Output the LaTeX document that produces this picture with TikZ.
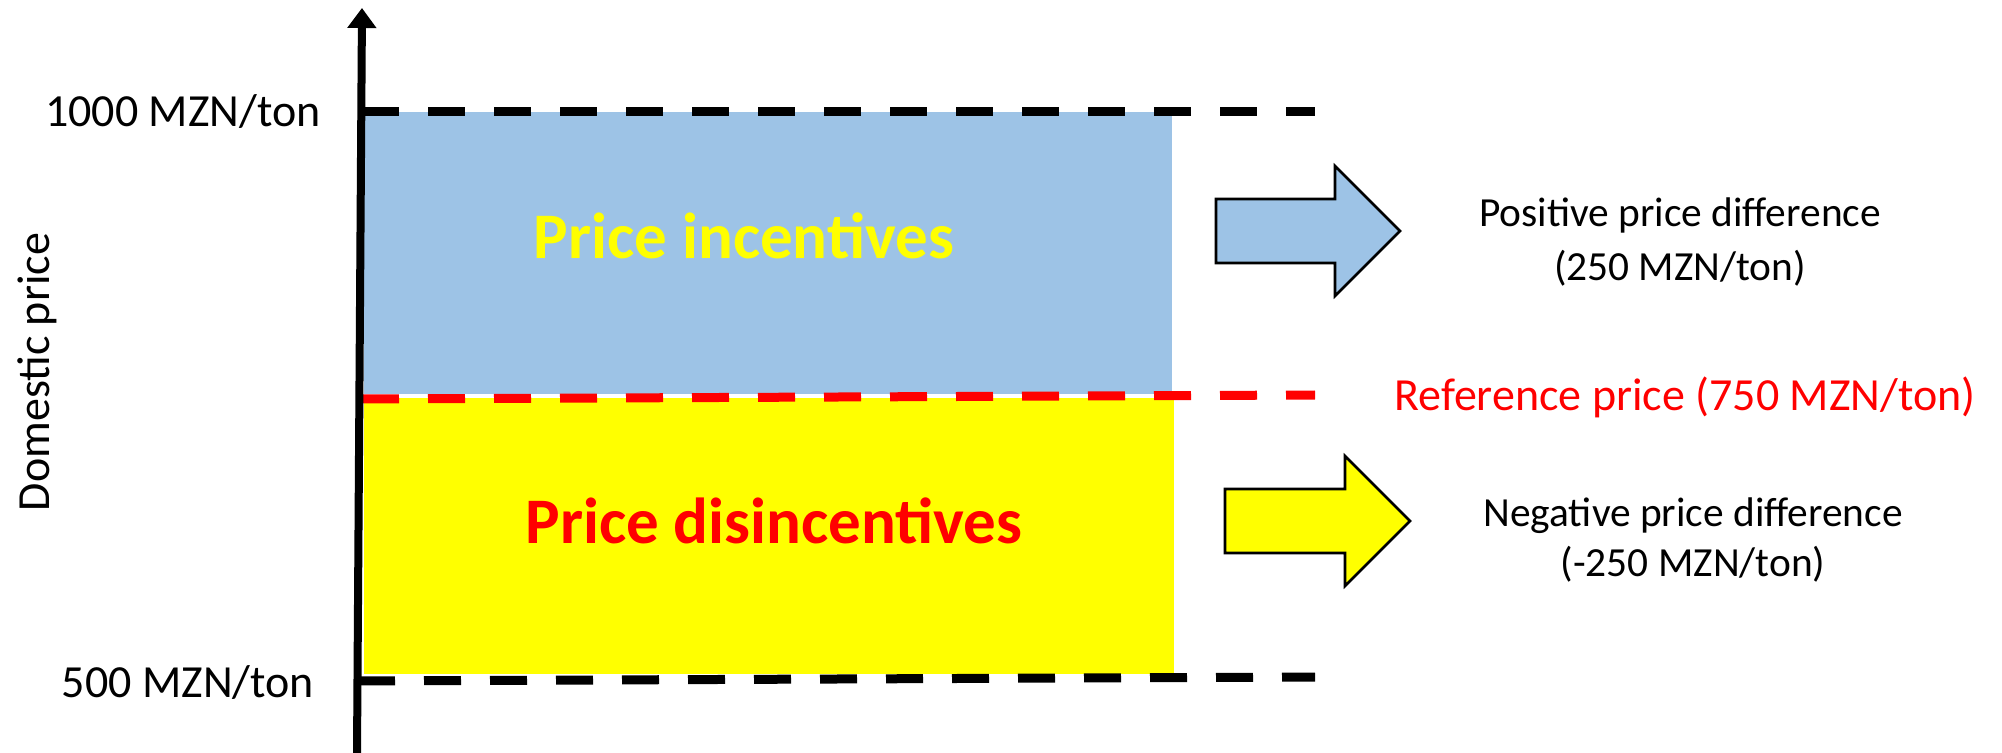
\documentclass[tikz,border=0pt]{standalone}
\usepackage{fontspec}
\setmainfont{Carlito}
\usetikzlibrary{arrows.meta}
\definecolor{lblue}{HTML}{9DC3E6}
\definecolor{pyellow}{HTML}{FFFF00}
\definecolor{pred}{HTML}{FF0000}
\tikzset{
  lbl/.style={font=\fontsize{23}{28}\selectfont, inner sep=0pt, align=center},
  sidelbl/.style={font=\fontsize{20.7}{25}\selectfont, inner sep=0pt, align=center},
  biglbl/.style={font=\fontsize{32.5}{38}\selectfont\bfseries, inner sep=0pt},
  dashline/.style={line width=4.5pt, dash pattern=on 18.5pt off 14.5pt},
  bigarrow/.style={draw=black, line width=1.3pt, line join=miter},
}
\begin{document}
\begin{tikzpicture}[x=0.5pt,y=-0.5pt]
\useasboundingbox (0,0) rectangle (2002,753);
% regions
\fill[lblue] (364,112) rectangle (1172,394);
\fill[pyellow] (364,398) rectangle (1174,674);
% dashed levels
\coordinate (t1) at (362,112);
\coordinate (t2) at (1315,112);
\coordinate (r1) at (362,399);
\coordinate (r2) at (1315,395);
\coordinate (b1) at (358,681);
\coordinate (b2) at (1315,677);
\draw[dashline, black] (t1) -- (t2);
\draw[dashline, pred] (r1) -- (r2);
\draw[dashline, black] (b1) -- (b2);
% axis
\coordinate (ax0) at (357,753);
\coordinate (ax1) at (362,8);
\draw[line width=4pt, -{Triangle[width=14pt,length=10pt]}] (ax0) -- (ax1);
% axis labels
\node[lbl] (top) at (183,112) {1000 MZN/ton};
\node[lbl] (bot) at (188,683) {500 MZN/ton};
\node[lbl, rotate=90] (dom) at (37,372) {Domestic price};
% region labels
\node[biglbl, text=pyellow] (inc) at (744,236) {Price incentives};
\node[biglbl, text=pred] (dis) at (774,521) {Price disincentives};
% arrows
\draw[bigarrow, fill=lblue] (1216,199) -- (1335,199) -- (1335,166) -- (1400,231) -- (1335,296) -- (1335,263) -- (1216,263) -- cycle;
\draw[bigarrow, fill=pyellow] (1225,489) -- (1345,489) -- (1345,456) -- (1410,521) -- (1345,586) -- (1345,553) -- (1225,553) -- cycle;
% right texts
\node[sidelbl, font=\fontsize{20.7}{27.5}\selectfont] (pos) at (1680,242) {Positive price difference\\(250 MZN/ton)};
\node[lbl, text=pred] (ref) at (1685,397) {Reference price (750 MZN/ton)};
\node[sidelbl] (neg) at (1693,540) {Negative price difference\\(-250 MZN/ton)};
\end{tikzpicture}
\end{document}
